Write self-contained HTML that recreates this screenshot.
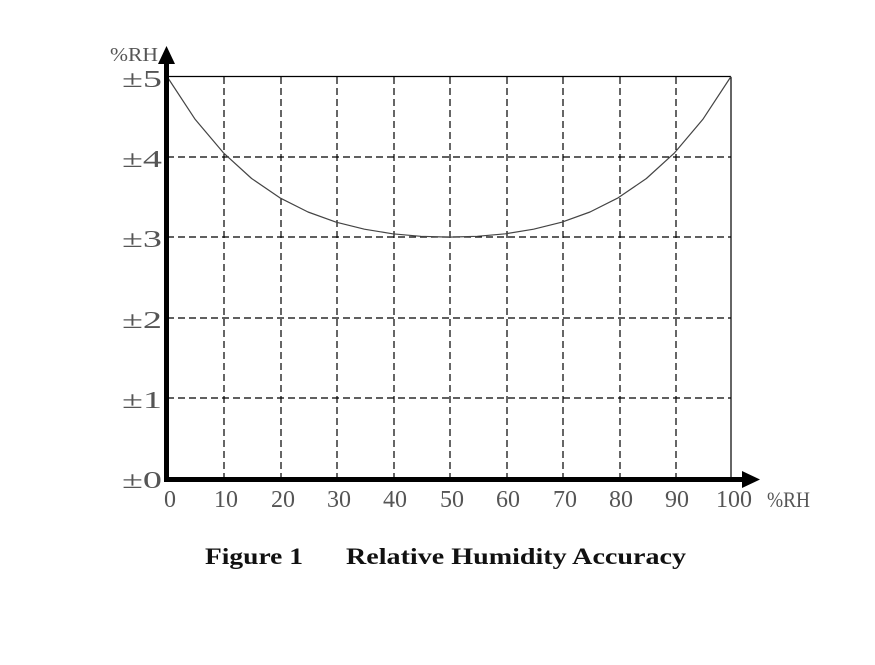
<!DOCTYPE html>
<html><head><meta charset="utf-8"><style>body{margin:0;background:#fff}</style></head>
<body>
<svg width="875" height="660" xmlns="http://www.w3.org/2000/svg" font-family="Liberation Serif, serif">
<rect width="875" height="660" fill="#fff"/>
<g stroke="#000" stroke-width="1.2" stroke-dasharray="7,4">
<line x1="224" y1="77" x2="224" y2="478"/><line x1="281" y1="77" x2="281" y2="478"/>
<line x1="337" y1="77" x2="337" y2="478"/><line x1="394" y1="77" x2="394" y2="478"/>
<line x1="450" y1="77" x2="450" y2="478"/><line x1="507" y1="77" x2="507" y2="478"/>
<line x1="563" y1="77" x2="563" y2="478"/><line x1="620" y1="77" x2="620" y2="478"/>
<line x1="676" y1="77" x2="676" y2="478"/>
<line x1="167" y1="157" x2="731" y2="157"/><line x1="167" y1="237" x2="731" y2="237"/>
<line x1="167" y1="318" x2="731" y2="318"/><line x1="167" y1="398" x2="731" y2="398"/>
</g>
<line x1="167" y1="76.5" x2="731" y2="76.5" stroke="#000" stroke-width="1.2"/>
<line x1="731" y1="77" x2="731" y2="478" stroke="#000" stroke-width="1.2"/>
<polyline points="167,76.5 195.2,119.4 223.4,152.8 251.6,178.5 279.8,197.8 308,212 336.2,222.2 364.4,229.2 392.6,233.8 420.8,236.3 449,237.1 477.2,236.3 505.4,233.8 533.6,229.2 561.8,222.2 590,212 618.2,197.8 646.4,178.5 674.6,152.8 702.8,119.4 731,76.5" fill="none" stroke="#444" stroke-width="1.2" stroke-linejoin="round"/>
<rect x="164" y="62" width="5" height="420" fill="#000"/>
<polygon points="166.5,46 158,64 175,64" fill="#000"/>
<rect x="164" y="477" width="580" height="5" fill="#000"/>
<polygon points="760,479.5 742,471 742,488" fill="#000"/>
<g fill="#555" font-size="24">
<text x="110" y="61" font-size="20" textLength="48" lengthAdjust="spacingAndGlyphs">%RH</text>
<g>
<text x="122" y="87" textLength="40" lengthAdjust="spacingAndGlyphs">±5</text>
<text x="122" y="167" textLength="40" lengthAdjust="spacingAndGlyphs">±4</text>
<text x="122" y="247" textLength="40" lengthAdjust="spacingAndGlyphs">±3</text>
<text x="122" y="328" textLength="40" lengthAdjust="spacingAndGlyphs">±2</text>
<text x="122" y="408" textLength="40" lengthAdjust="spacingAndGlyphs">±1</text>
<text x="122" y="488" textLength="40" lengthAdjust="spacingAndGlyphs">±0</text>
</g>
<g text-anchor="middle" font-size="24">
<text x="170" y="507">0</text><text x="226" y="507">10</text><text x="283" y="507">20</text>
<text x="339" y="507">30</text><text x="395" y="507">40</text><text x="452" y="507">50</text>
<text x="508" y="507">60</text><text x="565" y="507">70</text><text x="621" y="507">80</text>
<text x="677" y="507">90</text><text x="734" y="507">100</text>
</g>
<text x="767" y="507" font-size="22" textLength="43" lengthAdjust="spacingAndGlyphs">%RH</text>
</g>
<text x="205" y="564" font-size="23" font-weight="bold" fill="#111" textLength="98" lengthAdjust="spacingAndGlyphs">Figure 1</text>
<text x="346" y="564" font-size="23" font-weight="bold" fill="#111" textLength="340" lengthAdjust="spacingAndGlyphs">Relative Humidity Accuracy</text>
</svg>
</body></html>
